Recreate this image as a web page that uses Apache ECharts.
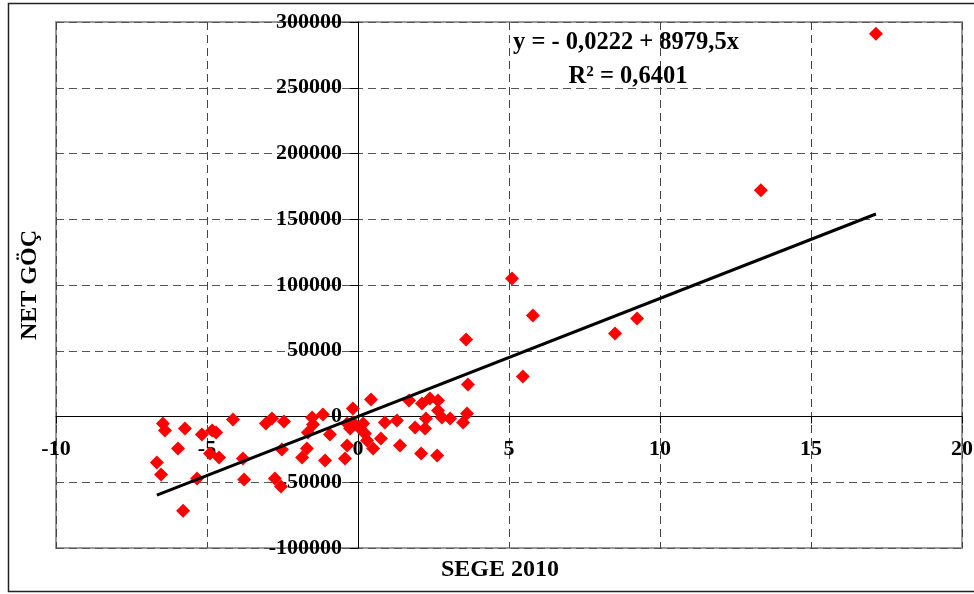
<!DOCTYPE html>
<html>
<head>
<meta charset="utf-8">
<script src="https://cdn.jsdelivr.net/npm/echarts@6/dist/echarts.min.js"></script>
<style>html,body{margin:0;padding:0;background:#fff;}#c{width:974px;height:594px;}</style>
</head>
<body>
<div id="c"></div>
<script>
// SEGE 2010 index values (x)
var segeValues = [-6.46,-6.39,-5.73,-5.17,-4.83,-4.70,-4.14,-5.96,-4.90,-4.60,-3.81,-6.66,-6.52,-5.33,-3.77,-5.79,
  -3.05,-2.85,-2.45,-2.52,-2.75,-2.55,-1.85,-1.69,-1.52,-1.16,-1.49,-1.66,-0.93,-1.09,-0.43,-0.36,-0.26,-0.17,-0.17,-0.36,
  0.07,0.17,0.23,0.30,0.50,0.76,0.43,0.89,1.29,1.39,1.69,1.89,2.22,2.25,2.12,2.38,2.65,2.65,2.78,3.05,3.48,3.61,2.09,2.62,
  3.64,3.58,5.10,5.79,5.46,8.51,9.24,13.34,17.15];
// Net migration values (y)
var netGocValues = [-5300,-10700,-9100,-13700,-10700,-12200,-2300,-24400,-28200,-31200,-32000,-35000,-44200,-47200,-48000,-71600,
  -5300,-1500,-3800,-25100,-47200,-53300,-31200,-24400,-800,1500,-6100,-12200,-13700,-33500,-32000,-22100,-9100,6100,-4600,-5300,
  -9100,-5300,-12900,-18300,-24400,-16800,12900,-4600,-3000,-22100,12200,-8400,-9100,-1500,9900,13700,12200,4600,-800,-1500,-4600,2300,-28200,-29700,
  24400,58600,105000,76900,30500,63200,74600,172000,291000];
// Linear trend (from the chart's equation)
var trendIntercept = -0.0222;
var trendSlope = 8979.5;
var equationText = 'y = - 0,0222 + 8979,5x';
var r2Value = '0,6401';
var xTicks = [-10, -5, 0, 5, 10, 15, 20];
var yTicks = [-100000, -50000, 0, 50000, 100000, 150000, 200000, 250000, 300000];

var pts = segeValues.map(function (x, i) { return [x, netGocValues[i]]; });
var xMin = Math.min.apply(null, segeValues), xMax = Math.max.apply(null, segeValues);
var trend = [[xMin, trendIntercept + trendSlope * xMin], [xMax, trendIntercept + trendSlope * xMax]];

var W = 974, H = 594, GL = 56, GT = 22, GR = 12, GB = 46;
var gw = W - GL - GR, gh = H - GT - GB;
var x0 = xTicks[0], x1 = xTicks[xTicks.length - 1], y0 = yTicks[0], y1 = yTicks[yTicks.length - 1];
// offsets that place the axes on the zero lines
var yAxisOffset = -gw * (0 - x0) / (x1 - x0);
var xAxisOffset = -gh * (0 - y0) / (y1 - y0);

var font = '"Liberation Serif", "Times New Roman", serif';
var chart = echarts.init(document.getElementById('c'), null, {renderer: 'canvas'});
chart.setOption({
  animation: false,
  backgroundColor: '#fff',
  grid: {left: GL, top: GT, right: GR, bottom: GB, show: true, borderColor: '#9a9a9a', borderWidth: 2, containLabel: false, outerBoundsMode: 'none'},
  xAxis: {
    type: 'value', min: x0, max: x1, interval: 5, position: 'bottom', offset: xAxisOffset,
    axisLine: {show: true, onZero: false, lineStyle: {color: '#000', width: 1}},
    axisTick: {show: true, length: 7, lineStyle: {color: '#000'}},
    axisLabel: {margin: 22, fontFamily: font, fontWeight: 'bold', fontSize: 22, color: '#000', showMinLabel: true, showMaxLabel: true},
    splitLine: {show: true, lineStyle: {color: '#444', type: [8, 5], width: 1}}
  },
  yAxis: {
    type: 'value', min: y0, max: y1, interval: 50000, position: 'left', offset: yAxisOffset,
    axisLine: {show: true, onZero: false, lineStyle: {color: '#000', width: 1}},
    axisTick: {show: true, length: 8, lineStyle: {color: '#000'}},
    axisLabel: {margin: 16, fontFamily: font, fontWeight: 'bold', fontSize: 22, color: '#000', formatter: function (v) { return String(v); }},
    splitLine: {show: true, lineStyle: {color: '#555', type: [8, 5], width: 1}}
  },
  series: [
    {type: 'scatter', data: pts, symbol: 'diamond', symbolSize: 14, itemStyle: {color: '#ff0000', opacity: 1}, z: 3},
    {type: 'line', data: trend, symbol: 'none', lineStyle: {color: '#000', width: 3}, z: 4}
  ],
  graphic: [
    {type: 'rect', shape: {x: 8.5, y: 3.5, width: 1000, height: 588}, style: {fill: 'none', stroke: '#222', lineWidth: 1.5}, silent: true, z: -1},
    {type: 'text', x: 500, y: 570, style: {text: 'SEGE 2010', fontFamily: font, fontWeight: 'bold', fontSize: 24, fill: '#000', align: 'center', verticalAlign: 'middle'}},
    {type: 'text', x: 30, y: 285, rotation: Math.PI / 2, style: {text: 'NET GÖÇ', fontFamily: font, fontWeight: 'bold', fontSize: 24, fill: '#000', align: 'center', verticalAlign: 'middle'}},
    {type: 'text', x: 626, y: 43, style: {text: equationText, fontFamily: font, fontWeight: 'bold', fontSize: 24.5, fill: '#000', align: 'center', verticalAlign: 'middle'}, z: 10},
    {type: 'text', x: 628, y: 77, style: {text: 'R{sup|2} = ' + r2Value, fontFamily: font, fontWeight: 'bold', fontSize: 24.5, fill: '#000', align: 'center', verticalAlign: 'middle',
      rich: {sup: {fontFamily: font, fontWeight: 'bold', fontSize: 15, verticalAlign: 'top', padding: [0, 0, 10, 0]}}}, z: 10}
  ]
});
</script>
</body>
</html>
